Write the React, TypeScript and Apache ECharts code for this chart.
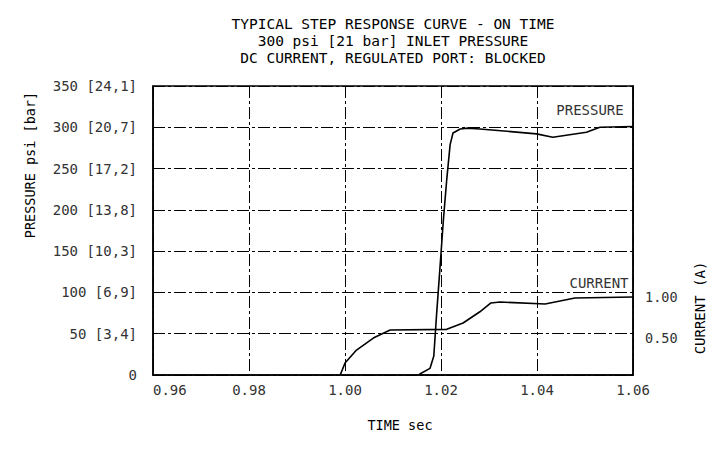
import React, { useEffect, useRef } from "react";
import * as echarts from "echarts";

const titleLines = [
  "TYPICAL STEP RESPONSE CURVE - ON TIME",
  "300 psi [21 bar] INLET PRESSURE",
  "DC CURRENT, REGULATED PORT: BLOCKED",
];

const pressureTickValues = [0, 50, 100, 150, 200, 250, 300, 350];
const pressureTickLabels = ["0", "50 [3,4]", "100 [6,9]", "150 [10,3]", "200 [13,8]", "250 [17,2]", "300 [20,7]", "350 [24,1]"];
const currentTickValues = [0.5, 1.0];

const pressureTime = [1.0155, 1.0177, 1.0185, 1.0191, 1.0198, 1.0205, 1.0212, 1.0219, 1.0225, 1.024, 1.0256, 1.0281, 1.0399, 1.0433, 1.0503, 1.0531, 1.06];
const pressurePsi = [1, 8, 23, 75, 131, 188, 237, 279, 293, 298, 299, 298, 292, 288, 294, 300, 301];

const currentTime = [0.999, 1.0, 1.0024, 1.0059, 1.0094, 1.0212, 1.0246, 1.0281, 1.0304, 1.0323, 1.0417, 1.0479, 1.06];
const currentAmps = [0.05, 0.195, 0.354, 0.5, 0.598, 0.606, 0.683, 0.82, 0.927, 0.939, 0.915, 0.988, 1.0];

const FONT = "DejaVu Sans Mono";
const dashDot = [12, 3, 3, 3];

export default function App() {
  const ref = useRef<HTMLDivElement>(null);
  useEffect(() => {
    if (!ref.current) return;
    const chart = echarts.init(ref.current, undefined, { renderer: "svg" });
    const labelFor = (v: number) => {
      const i = pressureTickValues.findIndex((p) => Math.abs(p - v) < 1e-6);
      return i >= 0 ? pressureTickLabels[i] : "";
    };
    chart.setOption({
      animation: false,
      backgroundColor: "#ffffff",
      textStyle: { fontFamily: FONT },
      grid: {
        left: 153,
        right: 90,
        top: 86,
        bottom: 75,
        show: true,
        borderColor: "#000",
        borderWidth: 1.5,
        backgroundColor: "transparent",
      },
      xAxis: {
        type: "value",
        min: 0.96,
        max: 1.06,
        interval: 0.02,
        axisLine: { show: true, lineStyle: { color: "#000", width: 1.5 } },
        axisTick: { show: false },
        axisLabel: {
          color: "#333",
          fontSize: 14,
          fontFamily: FONT,
          margin: 8,
          alignMinLabel: "left",
          formatter: (v: number) => v.toFixed(2),
        },
        splitLine: { show: true, lineStyle: { color: "#000", width: 1, type: dashDot } },
      },
      yAxis: [
        {
          type: "value",
          min: 0,
          max: 350,
          interval: 50,
          axisLine: { show: true, lineStyle: { color: "#000", width: 1.5 } },
          axisTick: { show: false },
          axisLabel: { color: "#333", fontSize: 14, fontFamily: FONT, margin: 16, formatter: labelFor },
          splitLine: { show: true, lineStyle: { color: "#000", width: 1, type: dashDot } },
        },
        {
          type: "value",
          min: 0.05,
          max: 3.57,
          position: "right",
          axisLine: { show: true, lineStyle: { color: "#000", width: 1.5 } },
          axisTick: { show: false },
          splitLine: { show: false },
          axisLabel: {
            color: "#333",
            fontSize: 13.5,
            fontFamily: FONT,
            margin: 12,
            customValues: currentTickValues,
            formatter: (v: number) => v.toFixed(2),
          },
        },
      ],
      series: [
        {
          name: "PRESSURE",
          type: "line",
          showSymbol: false,
          smooth: false,
          lineStyle: { color: "#000", width: 1.6 },
          data: pressureTime.map((t, i) => [t, pressurePsi[i]]),
        },
        {
          name: "CURRENT",
          type: "line",
          yAxisIndex: 1,
          showSymbol: false,
          smooth: false,
          lineStyle: { color: "#000", width: 1.6 },
          data: currentTime.map((t, i) => [t, currentAmps[i]]),
        },
      ],
      graphic: [
        ...titleLines.map((t, i) => ({
          type: "text",
          x: 393,
          y: 24 + i * 17,
          style: { text: t, fill: "#000", font: `14.5px '${FONT}'`, textAlign: "center", textVerticalAlign: "middle" },
        })),
        {
          type: "text",
          x: 30,
          y: 165,
          rotation: Math.PI / 2,
          style: { text: "PRESSURE psi [bar]", fill: "#000", font: `13.5px '${FONT}'`, textAlign: "center", textVerticalAlign: "middle" },
        },
        {
          type: "text",
          x: 700,
          y: 308,
          rotation: Math.PI / 2,
          style: { text: "CURRENT (A)", fill: "#000", font: `14px '${FONT}'`, textAlign: "center", textVerticalAlign: "middle" },
        },
        {
          type: "text",
          x: 400,
          y: 425,
          style: { text: "TIME sec", fill: "#000", font: `13.5px '${FONT}'`, textAlign: "center", textVerticalAlign: "middle" },
        },
        {
          type: "text",
          x: 590,
          y: 110,
          style: { text: "PRESSURE", fill: "#333", font: `14px '${FONT}'`, textAlign: "center", textVerticalAlign: "middle" },
        },
        {
          type: "text",
          x: 599,
          y: 283,
          style: { text: "CURRENT", fill: "#333", font: `14px '${FONT}'`, textAlign: "center", textVerticalAlign: "middle" },
        },
      ],
    });
    return () => chart.dispose();
  }, []);
  return <div ref={ref} style={{ position: "fixed", left: 0, top: 0, width: 723, height: 450 }} />;
}
